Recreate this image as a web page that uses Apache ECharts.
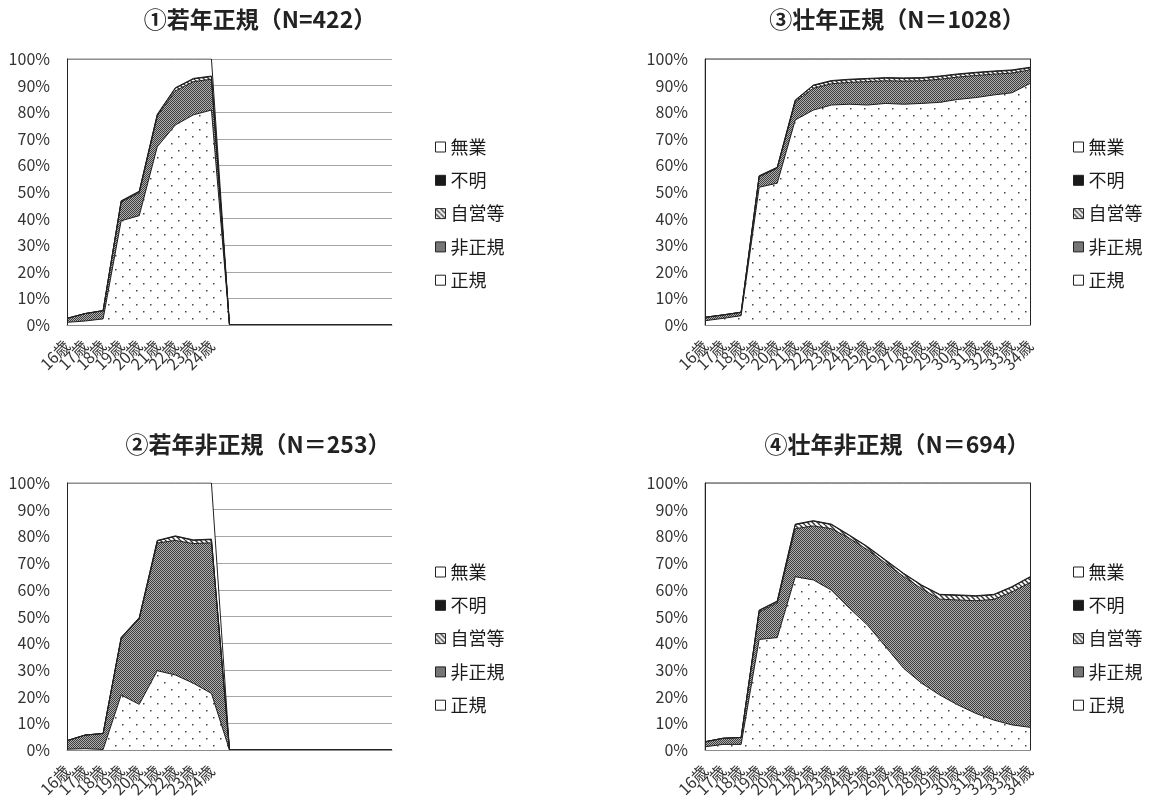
<!DOCTYPE html>
<html>
<head>
<meta charset="utf-8">
<script src="https://cdn.jsdelivr.net/npm/echarts@6/dist/echarts.min.js"></script>
<style>
html,body{margin:0;padding:0;background:#fff;}
#c{width:1149px;height:802px;}
</style>
</head>
<body>
<div id="c"></div>
<script>
// ---------- data ----------
const categories = ['16歳','17歳','18歳','19歳','20歳','21歳','22歳','23歳','24歳','25歳','26歳','27歳','28歳','29歳','30歳','31歳','32歳','33歳','34歳'];
const youngLabelCount = 9; // 16歳〜24歳 only labelled in the 若年 panels
const seriesNames = ['正規','非正規','自営等','不明','無業'];
const legendOrder = ['無業','不明','自営等','非正規','正規'];
const titles = ['①若年正規（N=422）','②若年非正規（N＝253）','③壮年正規（N＝1028）','④壮年非正規（N＝694）'];

// ① 若年正規
const p1Seiki   = [1.0,1.5,2.3,39.2,41.1,67.0,75.2,79.0,80.8,0,0,0,0,0,0,0,0,0,0];
const p1Hiseiki = [1.5,2.8,3.1,7.0,8.6,11.5,12.8,12.5,11.6,0,0,0,0,0,0,0,0,0,0];
const p1Jiei    = [0,0,0,0.3,0.4,0.5,1.0,1.0,1.0,0,0,0,0,0,0,0,0,0,0];
const p1Fumei   = [0,0,0,0.2,0.2,0.2,0.2,0.2,0.2,0,0,0,0,0,0,0,0,0,0];
const p1Mugyo   = [97.5,95.7,94.6,53.3,49.7,20.8,10.8,7.3,6.4,0,0,0,0,0,0,0,0,0,0];

// ② 若年非正規
const p2Seiki   = [0.3,0.5,0.2,20.6,17.1,29.7,28.1,25.0,21.2,0,0,0,0,0,0,0,0,0,0];
const p2Hiseiki = [3.2,5.1,6.0,21.1,32.0,47.8,50.4,52.3,56.4,0,0,0,0,0,0,0,0,0,0];
const p2Jiei    = [0,0,0,0.3,0.3,0.8,1.5,1.2,1.2,0,0,0,0,0,0,0,0,0,0];
const p2Fumei   = [0,0,0,0.2,0.2,0.2,0.2,0.2,0.2,0,0,0,0,0,0,0,0,0,0];
const p2Mugyo   = [96.5,94.4,93.8,57.8,50.4,21.5,19.8,21.3,21.0,0,0,0,0,0,0,0,0,0,0];

// ③ 壮年正規
const p3Seiki   = [1.6,2.5,3.5,51.8,53.3,77.1,80.8,82.7,83.0,82.7,83.3,83.0,83.3,83.7,84.8,85.5,86.5,87.3,90.8];
const p3Hiseiki = [1.3,1.3,1.3,3.9,5.6,6.8,8.2,8.0,8.2,8.8,8.5,8.7,8.5,8.7,8.4,8.3,7.8,7.4,5.1];
const p3Jiei    = [0,0,0,0.3,0.3,0.5,1.0,1.0,1.0,1.0,1.0,1.0,1.0,1.0,1.0,1.0,1.0,1.0,0.8];
const p3Fumei   = [0,0,0,0.1,0.1,0.2,0.2,0.2,0.2,0.2,0.2,0.2,0.2,0.2,0.2,0.2,0.2,0.2,0.2];
const p3Mugyo   = [97.1,96.2,95.2,43.9,40.7,15.4,9.8,8.1,7.6,7.3,7.0,7.1,7.0,6.4,5.6,5.0,4.5,4.1,3.1];

// ④ 壮年非正規
const p4Seiki   = [1.2,2.1,2.1,41.4,42.1,64.9,63.7,59.9,53.1,46.8,38.7,30.6,25.0,20.6,16.9,13.7,11.2,9.4,8.5];
const p4Hiseiki = [1.9,2.3,2.6,10.3,13.0,18.0,20.2,23.0,26.2,28.2,31.3,34.4,35.4,35.9,39.3,42.2,45.2,49.8,54.2];
const p4Jiei    = [0,0,0,0.5,0.5,1.5,1.8,1.5,1.0,1.0,1.0,1.0,1.2,1.6,1.7,1.7,1.7,1.8,2.0];
const p4Fumei   = [0,0,0,0.2,0.2,0.2,0.2,0.2,0.2,0.2,0.2,0.2,0.2,0.2,0.2,0.2,0.2,0.2,0.2];
const p4Mugyo   = [96.9,95.6,95.3,47.6,44.2,15.4,14.1,15.4,19.5,23.8,28.8,33.8,38.2,41.7,41.9,42.2,41.7,38.8,35.1];

const panelData = [
  [p1Seiki,p1Hiseiki,p1Jiei,p1Fumei,p1Mugyo],
  [p2Seiki,p2Hiseiki,p2Jiei,p2Fumei,p2Mugyo],
  [p3Seiki,p3Hiseiki,p3Jiei,p3Fumei,p3Mugyo],
  [p4Seiki,p4Hiseiki,p4Jiei,p4Fumei,p4Mugyo]
];

// ---------- patterns ----------
function makeCanvas(w,h,draw){
  const c=document.createElement('canvas'); c.width=w; c.height=h;
  const ctx=c.getContext('2d'); draw(ctx); return c;
}
const dotPat = {image: makeCanvas(14,14,ctx=>{
  ctx.fillStyle='#fff'; ctx.fillRect(0,0,14,14);
  ctx.fillStyle='#444'; ctx.fillRect(3,3,1.5,1.5); ctx.fillRect(10,10,1.5,1.5);
}), repeat:'repeat'};
const checkPat = {image: makeCanvas(2,2,ctx=>{
  ctx.fillStyle='#b0b0b0'; ctx.fillRect(0,0,2,2);
  ctx.fillStyle='#3c3c3c'; ctx.fillRect(0,0,1,1); ctx.fillRect(1,1,1,1);
}), repeat:'repeat'};
const stripePat = {image: makeCanvas(5,5,ctx=>{
  ctx.fillStyle='#fff'; ctx.fillRect(0,0,5,5);
  ctx.strokeStyle='#333'; ctx.lineWidth=1.4;
  for(const k of [-5,0,5]){ ctx.beginPath(); ctx.moveTo(k,0); ctx.lineTo(k+5,5); ctx.stroke(); }
}), repeat:'repeat'};
const fills = {'正規':dotPat,'非正規':checkPat,'自営等':stripePat,'不明':'#1a1a1a','無業':'#ffffff'};
const legendFills = {'正規':'#ffffff','非正規':checkPat,'自営等':stripePat,'不明':'#1a1a1a','無業':'#ffffff'};

// ---------- layout ----------
const FONT = 'Noto Sans CJK JP';
const panels = [
  {left:67,  top:59,  height:266, titleX:260, titleY:8,   legendX:435,  legendY:138, young:true},
  {left:67,  top:483, height:267, titleX:258, titleY:433, legendX:435,  legendY:563, young:true},
  {left:705, top:59,  height:266, titleX:897, titleY:8,   legendX:1073, legendY:138, young:false},
  {left:705, top:483, height:267, titleX:897, titleY:433, legendX:1073, legendY:563, young:false}
];

const option = {animation:false, backgroundColor:'#fff', title:[], legend:[], grid:[], xAxis:[], yAxis:[], series:[]};

panels.forEach((p,i)=>{
  option.title.push({text:titles[i], left:p.titleX, top:p.titleY, textAlign:'center', padding:0,
    textStyle:{fontFamily:FONT, fontSize:23, fontWeight:'bold', color:'#222'}});
  option.legend.push({orient:'vertical', left:p.legendX, top:p.legendY, icon:'rect',
    itemWidth:10, itemHeight:10, itemGap:15.3, selectedMode:false, padding:0,
    textStyle:{fontFamily:FONT, fontSize:18, lineHeight:18, color:'#1a1a1a'},
    data: legendOrder.map(n=>({name:n, itemStyle:{color:legendFills[n], borderColor:'#222', borderWidth:1}}))});
  option.grid.push({left:p.left, top:p.top, width:325, height:p.height,
    show:!p.young, borderColor:'#8c8c8c', borderWidth:1});
  option.xAxis.push({type:'category', gridIndex:i, data:categories, boundaryGap:false, z:10,
    axisLine:{show:true, lineStyle:{color:'#8c8c8c', width:1}},
    axisTick:{show:false}, splitLine:{show:false},
    axisLabel:{interval:0, rotate:45, margin:18, fontFamily:FONT, fontSize:16, color:'#333',
      formatter:(v,idx)=> (p.young && idx>=youngLabelCount) ? '' : v}});
  const mainY = option.yAxis.length;
  option.yAxis.push({type:'value', gridIndex:i, min:0, max:100, interval:10,
    axisLine:{show:false}, axisTick:{show:false},
    splitLine:{show:true, lineStyle:{color:'#a6a6a6', width:1}},
    axisLabel:{formatter:'{value}%', margin:17, fontFamily:FONT, fontSize:16, color:'#333'}});
  option.yAxis.push({type:'value', gridIndex:i, min:0, max:100, position:'left', z:10,
    axisLine:{show:true, lineStyle:{color:'#222', width:1}}, axisTick:{show:false},
    axisLabel:{show:false}, splitLine:{show:false}});
  if(!p.young){
    option.yAxis.push({type:'value', gridIndex:i, min:0, max:100, position:'right', z:10,
      axisLine:{show:true, lineStyle:{color:'#222', width:1}}, axisTick:{show:false},
      axisLabel:{show:false}, splitLine:{show:false}});
  }
  seriesNames.forEach((name,k)=>{
    option.series.push({name:name, type:'line', xAxisIndex:i, yAxisIndex:mainY, stack:'p'+i,
      data:panelData[i][k], symbol:'none', showSymbol:false,
      lineStyle:{color:'#1f1f1f', width:1},
      itemStyle:{color:'#1f1f1f'},
      areaStyle:{color:fills[name], opacity:1},
      emphasis:{disabled:true}});
  });
});

const chart = echarts.init(document.getElementById('c'), null, {renderer:'canvas'});
chart.setOption(option);
</script>
</body>
</html>
